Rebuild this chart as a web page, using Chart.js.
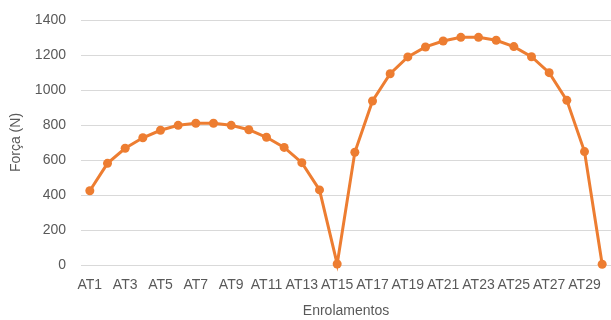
<!DOCTYPE html>
<html>
<head>
<meta charset="utf-8">
<script src="https://cdn.jsdelivr.net/npm/chart.js@4.4.1/dist/chart.umd.min.js"></script>
<style>
  html, body { margin: 0; padding: 0; background: #ffffff; }
  #wrap { width: 611px; height: 320px; }
</style>
</head>
<body>
<div id="wrap"><canvas id="chart" width="611" height="320"></canvas></div>
<script>
// Winding labels AT1..AT30
const categories = [
  'AT1','AT2','AT3','AT4','AT5','AT6','AT7','AT8','AT9','AT10',
  'AT11','AT12','AT13','AT14','AT15','AT16','AT17','AT18','AT19','AT20',
  'AT21','AT22','AT23','AT24','AT25','AT26','AT27','AT28','AT29','AT30'
];

// Force per winding (N)
const forca = [
  424, 581, 667, 727, 770, 798, 810, 810, 798, 773,
  730, 672, 585, 429, 6, 644, 937, 1093, 1189, 1246,
  1280, 1301, 1301, 1284, 1248, 1190, 1099, 941, 648, 4
];

const yTicks = [0, 200, 400, 600, 800, 1000, 1200, 1400];

const textColor = '#595959';
const lineColor = '#ED7D31';
const gridColor = '#d9d9d9';
const fontFamily = '"Liberation Sans", Arial, sans-serif';

new Chart(document.getElementById('chart'), {
  type: 'line',
  data: {
    labels: categories,
    datasets: [{
      label: 'Força (N)',
      data: forca,
      borderColor: lineColor,
      backgroundColor: lineColor,
      borderWidth: 3,
      pointRadius: 4.5,
      pointHoverRadius: 4.5,
      pointBackgroundColor: lineColor,
      pointBorderWidth: 0,
      tension: 0,
      clip: false
    }]
  },
  options: {
    responsive: false,
    animation: false,
    layout: {
      autoPadding: false,
      padding: { top: 20, right: 0, left: 0, bottom: 0 }
    },
    plugins: {
      legend: { display: false },
      tooltip: { enabled: false }
    },
    scales: {
      x: {
        offset: true,
        grid: { display: false, drawTicks: false },
        border: { display: false },
        ticks: {
          autoSkip: false,
          maxRotation: 0,
          minRotation: 0,
          padding: 12,
          color: textColor,
          font: { family: fontFamily, size: 14 },
          callback: function (value, index) {
            return index % 2 === 0 ? categories[index] : '';
          }
        },
        title: {
          display: true,
          text: 'Enrolamentos',
          color: textColor,
          font: { family: fontFamily, size: 14 },
          padding: { top: 0, bottom: 0 }
        },
        afterFit: function (scale) {
          scale.height = 55;
          scale.paddingLeft = 0;
          scale.paddingRight = 0;
        }
      },
      y: {
        min: 0,
        max: 1400,
        afterBuildTicks: function (scale) {
          scale.ticks = yTicks.map(v => ({ value: v }));
        },
        grid: { color: gridColor, lineWidth: 1, drawTicks: false },
        border: { display: false },
        ticks: {
          padding: 15,
          color: textColor,
          font: { family: fontFamily, size: 14 },
          callback: function (value) { return String(value); }
        },
        title: {
          display: true,
          text: 'Força (N)',
          color: textColor,
          font: { family: fontFamily, size: 14 },
          padding: { top: 8, bottom: 0 }
        },
        afterFit: function (scale) {
          scale.width = 81;
          scale.paddingTop = 0;
          scale.paddingBottom = 0;
        }
      }
    }
  }
});
</script>
</body>
</html>
